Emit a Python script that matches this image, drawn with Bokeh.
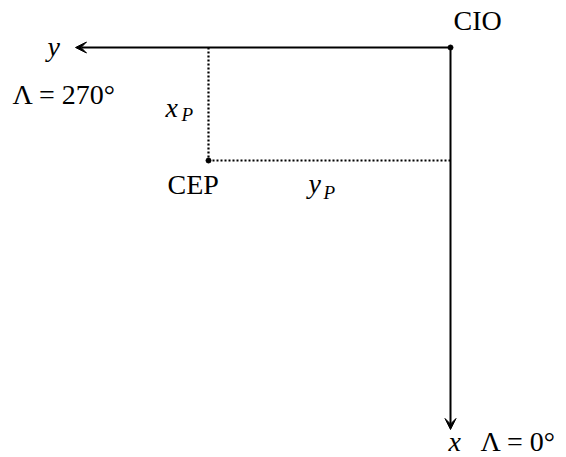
from bokeh.plotting import figure
from bokeh.models import Range1d, Arrow, VeeHead
from bokeh.core.properties import value
from bokeh.embed import file_html
from bokeh.resources import INLINE

# Diagram values (pixel-scaled units). Diagram x axis points down, y axis points left.
pole_names = ["CIO", "CEP"]
cep_xp = 113          # polar motion component x_P (downwards)
cep_yp = 242          # polar motion component y_P (leftwards)
axis_len_x = 382      # length of the x axis arrow (towards Λ = 0°)
axis_len_y = 375      # length of the y axis arrow (towards Λ = 270°)
lambda_x = "Λ = 0°"
lambda_y = "Λ = 270°"

# plot coordinates: px = -y_diag, py = -x_diag
cio = (0, 0)
cep = (-cep_yp, -cep_xp)

p = figure(width=566, height=457, output_backend="svg", toolbar_location=None,
           x_range=Range1d(-450, 116), y_range=Range1d(-410, 47),
           min_border=0, min_border_left=0, min_border_right=0,
           min_border_top=0, min_border_bottom=0)
p.xaxis.visible = False
p.yaxis.visible = False
p.grid.visible = False
p.outline_line_color = None
p.background_fill_color = "white"
p.border_fill_color = "white"

# axes arrows
p.add_layout(Arrow(end=VeeHead(size=11, fill_color="black", line_color="black", line_width=1),
                   x_start=cio[0], y_start=cio[1], x_end=-axis_len_y, y_end=cio[1],
                   line_width=2, line_color="black"))
p.add_layout(Arrow(end=VeeHead(size=11, fill_color="black", line_color="black", line_width=1),
                   x_start=cio[0], y_start=cio[1], x_end=cio[0], y_end=-axis_len_x,
                   line_width=2, line_color="black"))

# dotted projections of CEP
p.line([cep[0], cep[0]], [cio[1], cep[1]], line_dash="2 2", line_width=2.2, line_color="black")
p.line([cep[0], cio[0]], [cep[1], cep[1]], line_dash="2 2", line_width=2.2, line_color="black")

# pole points
p.scatter([cio[0], cep[0]], [cio[1], cep[1]], size=5, color="black")

font = value("Liberation Serif")
def label(x, y, t, size="28px", style="normal"):
    p.text(x=[x], y=[y + 9], text=[t], text_font=font, text_font_size=value(size),
           text_font_style=style, text_color="black",
           text_align="left", text_baseline="alphabetic")

label(3, 18, pole_names[0])
label(-283, -146, pole_names[1])
label(-403, -8, "y", style="italic")
label(-438, -56, lambda_y)
label(-285, -69, "x", style="italic")
label(-269, -76, "P", size="19px", style="italic")
label(-142, -145, "y", style="italic")
label(-127, -154, "P", size="19px", style="italic")
label(-2, -403, "x", style="italic")
label(30, -403, lambda_x)

html = file_html(p, INLINE)
html = html.replace("<head>", "<head><style>html,body{overflow:hidden}</style>", 1)
open("out.html", "w").write(html)
